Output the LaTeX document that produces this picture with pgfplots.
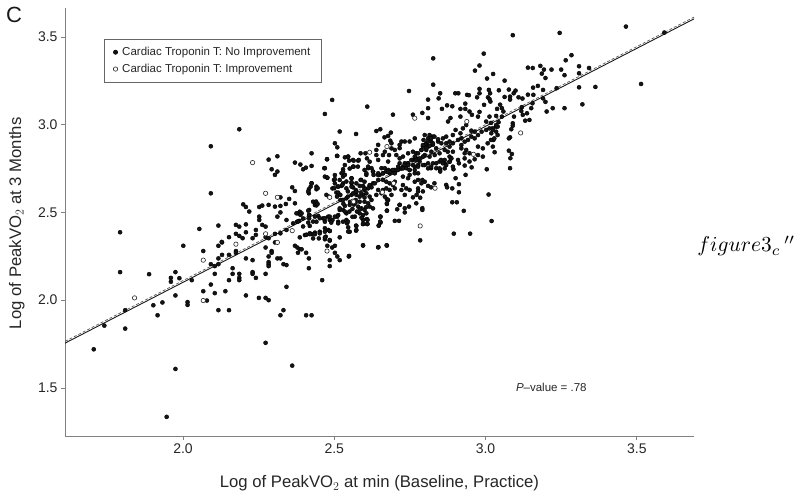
\documentclass[border=0pt]{standalone}
\usepackage{fontspec}
\setmainfont{Liberation Sans}
\usepackage{pgfplots}
\pgfplotsset{compat=1.18}
\definecolor{ax}{gray}{0.5}
\begin{document}
\begin{tikzpicture}[x=1bp,y=1bp]
\useasboundingbox (0,0) rectangle (800,500);
\begin{axis}[at={(65bp,64bp)},anchor=south west,scale only axis,width=629bp,height=428bp,
 xmin=1.61,xmax=3.689,ymin=1.226,ymax=3.665,
 axis x line=bottom,axis y line=left,axis line style={ax,line width=0.9bp,-},
 xtick={2,2.5,3,3.5},ytick={1.5,2,2.5,3,3.5},
 xticklabels={2.0,2.5,3.0,3.5},yticklabels={1.5,2.0,2.5,3.0,3.5},
 tick style={ax,line width=0.7bp},tick align=outside,major tick length=4bp,
 tick label style={font=\fontsize{14bp}{16bp}\selectfont,text=black!85},
 /pgf/number format/assume math mode=true,
 xlabel={Log of PeakVO$_2$ at min (Baseline, Practice)},
 ylabel={Log of PeakVO$_2$ at 3 Months},
 label style={font=\fontsize{16.7bp}{18bp}\selectfont,text=black!85},
 xlabel style={at={(axis description cs:0.5,0)},anchor=north,yshift=-36bp},
 ylabel style={at={(axis description cs:0,0.497)},anchor=south,yshift=37bp},
 legend style={at={(0.062,0.9276)},anchor=north west,draw=black!60,line width=0.7bp,font=\fontsize{11.5bp}{13bp}\selectfont,text=black!85,inner xsep=9bp,inner ysep=6bp,row sep=3bp,cells={anchor=west}},
 legend cell align=left,clip=true]
\addplot[black!90,line width=0.9bp,forget plot] coordinates {(1.61,1.755)(3.689,3.603)};
\addplot[black!65,line width=0.7bp,dash pattern=on 3bp off 2bp,forget plot] coordinates {(1.61,1.765)(3.689,3.613)};
\addplot[only marks,mark=*,mark size=2.05bp,mark options={draw=none,fill=black!92}] coordinates {
(1.705,1.72)(1.74,1.855)(1.792,2.16)(1.809,1.943)(1.809,1.838)(1.888,2.148)(1.902,1.971)(1.916,1.914)(1.932,1.987)(1.946,1.335)(1.96,2.127)(1.96,2.105)(1.975,2.16)(1.975,2.027)(1.975,1.608)(1.988,2.125)(2.001,2.31)(2.015,1.989)(2.015,1.973)(2.029,2.114)(2.067,2.28)(2.067,2.051)(2.079,1.998)(2.092,2.205)(2.092,2.089)(2.105,2.194)(2.105,2.15)(2.105,2.04)(2.117,2.31)(2.117,2.238)(2.117,2.205)(2.117,1.943)(2.129,2.329)(2.129,2.258)(2.14,2.051)(2.152,2.258)(2.152,2.114)(2.152,1.943)(2.164,2.182)(2.164,2.15)(2.175,2.28)(2.175,2.27)(2.186,2.15)(2.186,2.127)(2.186,2.114)(2.208,2.238)(2.208,2.027)(2.23,2.228)(2.23,2.16)(2.23,2.15)(2.241,2.127)(2.251,2.013)(2.273,2.3)(2.273,2.15)(2.273,2.013)(2.273,1.757)(2.283,2.249)(2.283,2.217)(2.283,2.205)(2.283,2.194)(2.283,2.0)(2.293,2.28)(2.293,2.27)(2.304,2.329)(2.312,2.238)(2.322,2.238)(2.322,1.914)(2.332,2.205)(2.332,1.943)(2.342,2.2)(2.342,2.076)(2.361,1.627)(2.37,2.31)(2.378,2.3)(2.386,2.29)(2.392,2.29)(2.38,2.27)(2.407,2.27)(2.407,1.914)(2.416,2.238)(2.416,2.182)(2.425,1.914)(2.46,2.114)(2.477,2.31)(2.485,2.339)(2.485,2.228)(2.485,2.194)(2.493,2.3)(2.502,2.31)(2.502,2.27)(2.51,2.249)(2.518,2.228)(2.548,2.249)
(1.792,2.387)(2.054,2.406)(2.092,2.877)(2.092,2.609)(2.186,2.974)(2.117,2.425)(2.283,2.801)(2.312,2.82)(2.293,2.746)(2.304,2.714)(2.312,2.733)(2.37,2.784)(2.388,2.773)(2.397,2.746)(2.406,2.755)(2.425,2.765)(2.425,2.837)(2.322,2.586)(2.361,2.643)(2.37,2.622)(2.199,2.546)(2.208,2.531)(2.219,2.505)(2.252,2.531)(2.262,2.539)(2.283,2.543)(2.304,2.533)(2.322,2.537)(2.34,2.548)(2.351,2.577)(2.37,2.552)(2.312,2.476)(2.322,2.5)(2.342,2.457)(2.38,2.495)(2.388,2.486)(2.175,2.429)(2.186,2.419)(2.208,2.432)(2.175,2.378)(2.186,2.366)(2.208,2.387)(2.197,2.353)(2.152,2.359)(2.128,2.332)(2.252,2.476)(2.252,2.457)(2.262,2.429)(2.273,2.419)(2.241,2.4)(2.241,2.372)(2.23,2.353)(2.273,2.359)(2.342,2.4)(2.322,2.381)(2.304,2.378)(2.283,2.353)
(3.464,3.559)(3.09,3.51)(3.245,3.523)(3.514,3.232)(3.591,3.525)(2.994,3.405)(2.827,3.378)(2.98,3.337)(2.965,3.308)(3.284,3.396)(3.265,3.367)(3.14,3.325)(3.156,3.323)(3.181,3.335)(3.193,3.314)(3.218,3.314)(3.25,3.314)(3.309,3.333)(3.342,3.323)(3.309,3.293)(3.261,3.282)(3.186,3.291)(3.198,3.266)(3.025,3.289)(3.005,3.263)(3.063,3.251)(2.827,3.228)(2.747,3.192)(2.609,3.103)(2.694,3.057)(2.572,2.947)(2.81,3.143)(2.845,3.15)(2.85,3.179)(2.9,3.179)(2.91,3.179)(2.939,3.17)(2.945,3.168)(2.972,3.156)(2.98,3.204)(2.98,3.179)(3.011,3.198)(3.015,3.179)(3.044,3.196)(3.077,3.2)(3.099,3.194)(3.093,3.179)(3.063,3.158)(3.081,3.16)(3.081,3.143)(3.109,3.156)(3.122,3.149)(3.14,3.171)(3.157,3.211)(3.173,3.221)(3.158,3.17)(3.19,3.198)(3.235,3.208)(3.19,3.15)(3.198,3.13)(3.309,3.213)(3.363,3.215)(3.32,3.116)(3.261,3.094)(3.222,3.094)(3.202,3.075)
(3.008,3.156)(3.013,3.146)(3.016,3.132)(2.995,3.113)(2.98,3.073)(2.975,3.046)(2.933,3.12)(2.917,3.09)(2.933,3.09)(2.947,3.075)(2.955,3.056)(2.873,3.11)(2.89,3.105)(2.856,3.09)(2.81,3.094)(2.791,3.067)(2.76,3.057)(2.81,3.038)(2.884,3.038)(2.876,3.018)(2.917,3.046)(3.038,3.09)(3.048,3.114)(3.054,3.094)(3.059,3.075)(3.054,3.046)(3.035,3.05)(3.013,3.046)(3.002,3.018)(3.018,3.01)(3.043,3.014)(3.035,2.989)(3.024,2.98)(3.019,2.951)(3.026,2.913)(3.03,2.843)(3.094,3.046)(3.12,3.1)(3.118,3.078)(3.123,3.056)(3.137,3.065)(3.151,3.094)(3.155,3.122)(3.131,3.023)(3.145,3.027)(3.09,3.008)(3.09,2.994)(3.085,2.974)(3.081,2.928)(3.077,2.922)(3.077,2.852)(3.087,2.833)(3.082,2.809)(3.081,2.752)(3.004,2.746)(3.01,2.602)(3.02,2.451)(2.949,2.379)(2.895,2.379)(2.928,2.509)(2.89,2.558)(2.905,2.558)(2.912,2.615)(2.912,2.661)(2.901,2.695)(2.934,2.714)(2.954,2.757)(2.931,2.767)
(2.784,2.341)(2.595,2.311)(2.646,2.302)(2.674,2.311)(2.7,2.452)(2.714,2.452)(2.653,2.476)(2.647,2.425)(2.653,2.442)(2.595,2.46)(2.608,2.462)(2.595,2.434)(2.608,2.434)(2.572,2.425)(2.572,2.396)(2.551,2.39)(2.791,2.524)(2.791,2.514)(2.771,2.552)(2.784,2.584)(2.76,2.586)(2.747,2.533)(2.733,2.524)(2.733,2.5)(2.716,2.543)(2.708,2.518)(2.674,2.51)(2.674,2.548)(2.674,2.575)
(2.562,2.799)(2.564,2.761)(2.579,2.795)(2.587,2.837)(2.603,2.837)(2.608,2.808)(2.617,2.789)(2.6,2.742)(2.612,2.752)(2.628,2.733)(2.63,2.714)(2.606,2.714)(2.587,2.685)(2.6,2.675)(2.557,2.695)(2.557,2.666)(2.562,2.643)(2.571,2.628)(2.584,2.651)(2.595,2.651)(2.6,2.628)(2.612,2.637)(2.623,2.643)(2.628,2.666)(2.573,2.6)(2.584,2.59)(2.595,2.6)(2.606,2.609)(2.617,2.59)(2.571,2.571)(2.584,2.561)(2.6,2.561)(2.612,2.552)(2.623,2.571)(2.579,2.533)(2.59,2.523)(2.6,2.514)(2.617,2.533)(2.628,2.523)(2.568,2.476)(2.584,2.495)(2.595,2.485)(2.606,2.495)
(2.639,2.856)(2.645,2.885)(2.661,2.827)(2.667,2.846)(2.681,2.827)(2.678,2.79)(2.645,2.799)(2.639,2.827)(2.623,2.752)(2.656,2.752)(2.667,2.752)(2.678,2.742)(2.689,2.738)(2.7,2.742)(2.661,2.723)(2.672,2.733)(2.683,2.723)(2.65,2.714)(2.645,2.685)(2.661,2.685)(2.672,2.675)(2.683,2.666)(2.7,2.675)(2.694,2.656)(2.661,2.628)(2.672,2.637)(2.683,2.628)(2.7,2.637)(2.645,2.628)(2.639,2.6)(2.656,2.609)(2.667,2.59)(2.678,2.571)(2.689,2.6)(2.674,2.552)(2.674,2.51)(2.652,2.476)(2.652,2.448)(2.647,2.425)(2.639,2.964)(2.652,2.974)(2.687,2.955)(2.666,2.928)(2.678,2.936)(2.685,2.909)(2.689,2.894)
(2.716,2.885)(2.722,2.904)(2.716,2.866)(2.733,2.904)(2.749,2.904)(2.766,2.922)(2.689,2.865)(2.7,2.856)(2.705,2.827)(2.716,2.808)(2.727,2.818)(2.744,2.837)(2.76,2.846)(2.771,2.837)(2.771,2.808)(2.76,2.799)(2.744,2.78)(2.733,2.78)(2.716,2.78)(2.711,2.761)(2.727,2.761)(2.738,2.752)(2.749,2.742)(2.766,2.761)(2.777,2.77)(2.782,2.79)(2.749,2.714)(2.766,2.723)(2.777,2.723)(2.744,2.695)(2.727,2.704)(2.766,2.675)(2.777,2.685)(2.788,2.666)(2.799,2.675)(2.727,2.656)(2.738,2.637)(2.749,2.628)(2.722,2.628)(2.733,2.6)(2.716,2.543)(2.772,2.6)(2.777,2.637)(2.777,2.62)(2.793,2.62)(2.81,2.651)(2.831,2.666)(2.82,2.643)(2.791,2.685)
(2.799,2.941)(2.815,2.941)(2.795,2.913)(2.81,2.922)(2.826,2.932)(2.82,2.904)(2.804,2.894)(2.793,2.875)(2.81,2.875)(2.826,2.885)(2.843,2.904)(2.859,2.922)(2.87,2.932)(2.854,2.894)(2.87,2.894)(2.881,2.904)(2.837,2.865)(2.804,2.856)(2.821,2.846)(2.788,2.856)(2.799,2.827)(2.815,2.818)(2.832,2.827)(2.848,2.837)(2.865,2.856)(2.881,2.875)(2.892,2.894)(2.875,2.846)(2.892,2.846)(2.881,2.818)(2.865,2.799)(2.848,2.79)(2.865,2.78)(2.881,2.789)(2.826,2.78)(2.81,2.78)(2.799,2.77)(2.82,2.752)(2.837,2.752)(2.85,2.742)(2.85,2.733)(2.886,2.808)(2.909,2.799)(2.912,2.78)(2.894,2.746)(2.87,2.657)(2.873,2.643)(2.89,2.637)
(2.901,2.97)(2.917,2.951)(2.925,2.979)(2.936,2.998)(2.892,2.941)(2.909,2.913)(2.92,2.922)(2.931,2.903)(2.942,2.913)(2.953,2.932)(2.964,2.922)(2.975,2.941)(2.987,2.96)(2.964,2.96)(2.953,2.966)(3.002,2.97)(3.013,2.979)(3.024,2.97)(3.035,2.96)(3.04,2.989)(2.92,2.865)(2.936,2.856)(2.931,2.837)(2.947,2.837)(2.931,2.808)(2.947,2.79)(2.964,2.803)(2.975,2.827)(2.991,2.818)(2.975,2.875)(2.991,2.865)(3.007,2.894)(3.018,2.913)(3.029,2.922)(3.024,2.875)(2.92,2.884)(3.04,2.941)(3.035,2.998)
(2.476,2.803)(2.509,2.822)(2.535,2.814)(2.546,2.818)(2.549,2.795)(2.564,2.795)(2.581,2.799)(2.535,2.77)(2.551,2.75)(2.562,2.761)(2.578,2.761)(2.467,2.752)(2.469,2.704)(2.477,2.698)(2.529,2.746)(2.524,2.723)(2.529,2.704)(2.502,2.713)(2.499,2.685)(2.425,2.666)(2.422,2.647)(2.416,2.632)(2.416,2.609)(2.441,2.647)(2.441,2.632)(2.482,2.59)(2.474,2.6)(2.513,2.647)(2.494,2.637)(2.507,2.613)(2.524,2.651)(2.529,2.666)(2.557,2.694)(2.557,2.672)(2.54,2.637)(2.557,2.647)(2.573,2.666)(2.589,2.685)(2.612,2.761)(2.606,2.723)(2.628,2.732)(2.645,2.713)
(2.509,2.59)(2.52,2.571)(2.54,2.58)(2.557,2.6)(2.573,2.618)(2.589,2.61)(2.43,2.561)(2.436,2.542)(2.441,2.54)(2.417,2.514)(2.417,2.485)(2.417,2.466)(2.386,2.504)(2.375,2.495)(2.392,2.495)(2.377,2.447)(2.384,2.452)(2.397,2.466)(2.447,2.48)(2.463,2.466)(2.48,2.476)(2.485,2.457)(2.469,2.447)(2.494,2.457)(2.49,2.442)(2.513,2.485)(2.518,2.514)(2.535,2.537)(2.551,2.543)(2.513,2.447)(2.54,2.457)(2.542,2.438)(2.546,2.415)(2.546,2.391)(2.573,2.423)(2.573,2.4)(2.595,2.457)(2.595,2.434)(2.61,2.457)(2.61,2.434)(2.441,2.447)(2.419,2.423)(2.419,2.381)(2.403,2.371)(2.386,2.358)(2.408,2.373)(2.425,2.377)(2.436,2.385)(2.452,2.39)(2.469,2.41)(2.48,2.4)(2.485,2.394)(2.472,2.362)(2.485,2.343)(2.469,2.347)(2.449,2.352)(2.43,2.352)(2.518,2.358)(2.595,2.313)(2.645,2.301)(2.673,2.313)(2.549,2.252)
(2.518,2.523)(2.529,2.514)(2.54,2.495)(2.51,2.476)(2.414,2.51)(2.417,2.486)(2.436,2.476)(2.452,2.467)(2.469,2.467)(2.485,2.476)(2.502,2.476)(2.513,2.438)(2.529,2.447)(2.545,2.447)(2.414,2.442)(2.43,2.448)(2.397,2.42)(2.38,2.448)(2.364,2.438)(2.419,2.376)(2.436,2.376)(2.452,2.381)(2.469,2.39)(2.485,2.395)(2.469,2.358)
(2.518,2.961)(2.502,2.894)(2.51,2.871)(2.469,3.061)(2.493,3.141)(2.476,2.803)(2.51,2.822)(2.546,2.818)(2.469,2.752)(2.477,2.698)(2.529,2.733)(2.535,2.714)(2.502,2.69)(2.502,2.665)(2.518,2.685)(2.54,2.676)(2.5,2.638)(2.513,2.648)(2.527,2.657)(2.513,2.613)(2.425,2.666)(2.414,2.619)(2.445,2.638)(2.44,2.562)(2.445,2.548)
(2.59,2.47)(2.575,2.505)(2.56,2.52)(2.55,2.505)(2.565,2.545)(2.552,2.56)(2.56,2.475)(2.535,2.505)(2.53,2.55)(2.52,2.6)(2.545,2.62)(2.585,2.52)(2.57,2.555)(2.605,2.53)(2.6,2.585)
(2.689,2.732)(2.7,2.723)(2.71,2.742)(2.722,2.751)(2.733,2.77)(2.744,2.78)(2.755,2.799)(2.766,2.818)(2.777,2.837)(2.788,2.856)(2.799,2.884)(2.81,2.904)(2.82,2.922)(2.831,2.932)(2.843,2.917)(2.793,2.884)(2.804,2.866)(2.815,2.879)(2.826,2.894)(2.771,2.799)(2.782,2.808)(2.793,2.818)(2.76,2.77)(2.749,2.742)(2.766,2.742)(2.777,2.761)(2.793,2.77)(2.81,2.751)(2.82,2.761)(2.837,2.78)(2.853,2.799)(2.859,2.78)(2.87,2.77)(2.881,2.789)(2.887,2.808)(2.848,2.751)(2.865,2.751)(2.892,2.761)
(2.529,2.571)(2.545,2.59)(2.562,2.609)(2.6,2.637)(2.617,2.656)(2.634,2.666)(2.645,2.723)(2.661,2.723)(2.678,2.732)(2.694,2.742)(2.727,2.751)(2.744,2.77)
};
\addlegendentry{\hspace{2.5bp}Cardiac Troponin T: No Improvement}
\addplot[only marks,mark=*,mark size=2.2bp,mark options={draw=black!85,line width=0.6bp,fill=white}] coordinates {
(1.84,2.013)(2.067,2.228)(2.067,1.998)(2.175,2.319)(2.312,2.329)(2.23,2.784)(2.273,2.609)(2.312,2.586)(2.273,2.378)(2.361,2.396)(2.476,2.28)(2.766,3.037)(2.938,3.018)(3.116,2.953)(2.784,2.423)(2.833,2.638)(2.96,2.831)(2.617,2.843)(2.674,2.875)(2.562,2.565)(2.485,2.586)(2.564,2.561)(2.659,2.615)(2.696,2.666)
};
\addlegendentry{\hspace{2.5bp}Cardiac Troponin T: Improvement}
\node[anchor=west,inner sep=0pt,font=\fontsize{11.5bp}{13bp}\selectfont,text=black!85] at (axis cs:3.1,1.505) {\textit{P}–value = .78};
\end{axis}
\node[anchor=center,font=\fontsize{22bp}{24bp}\selectfont,text=black!90] at (14,485) {C};
\node[anchor=base west,inner sep=0pt,scale=2.15] at (697,248) {$figure3_c\,{}''$};
\end{tikzpicture}
\end{document}
